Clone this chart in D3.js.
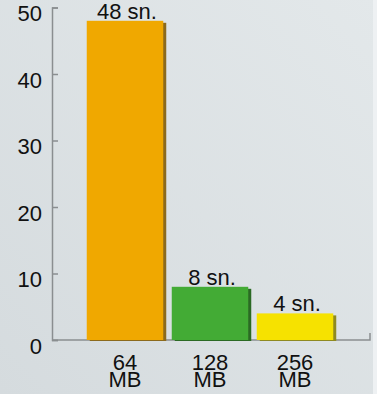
<!DOCTYPE html>
<html>
<head>
<meta charset="utf-8">
<script src="https://cdn.jsdelivr.net/npm/d3@7"></script>
<style>
  html, body { margin: 0; padding: 0; background: #dfe5e8; }
  svg { display: block; }
</style>
</head>
<body>
<svg id="chart"></svg>
<script>
// chart data
const categories = ['64 MB', '128 MB', '256 MB'];
const seconds = [48, 8, 4];
const valueLabels = ['48 sn.', '8 sn.', '4 sn.'];
const barColors = ['#f0a800', '#43ab35', '#f6e200'];
const shadowColors = ['#8c6a1c', '#2b6a24', '#8f8a20'];
const yTicks = [0, 10, 20, 30, 40, 50];

const W = 377, H = 394;
const font = "'Liberation Sans', Arial, sans-serif";
const fontSize = '22px';

const svg = d3.select('#chart').attr('width', W).attr('height', H);

// background
const defs = svg.append('defs');
const grad = defs.append('linearGradient').attr('id', 'bg')
    .attr('x1', 0).attr('y1', 1).attr('x2', 1).attr('y2', 0);
grad.append('stop').attr('offset', 0).attr('stop-color', '#d5dbde');
grad.append('stop').attr('offset', 1).attr('stop-color', '#e3e8ea');
svg.append('rect').attr('width', W).attr('height', H).attr('fill', 'url(#bg)');
svg.append('rect').attr('x', 373).attr('width', 4).attr('height', H).attr('fill', '#eef1f3');

// scales
const x = d3.scaleBand()
    .domain(categories)
    .range([82.5, 337.5])
    .paddingInner(0.1)
    .paddingOuter(0.05);

const y = d3.scaleLinear()
    .domain([0, 50])
    .range([340, 7.5]);

// y axis
const yAxis = svg.append('g')
    .attr('transform', 'translate(52,0)')
    .call(d3.axisLeft(y).tickValues(yTicks).tickSize(-6).tickPadding(10));
yAxis.select('.domain').attr('stroke', '#8a8e90').attr('stroke-width', 1.5);
yAxis.selectAll('.tick line').attr('stroke', '#8a8e90').attr('stroke-width', 1.5);
yAxis.selectAll('.tick text')
    .attr('fill', '#111')
    .attr('dy', '0.6em')
    .style('font-family', font)
    .style('font-size', fontSize);

// baseline
svg.append('path')
    .attr('d', `M52,${y(0)}H370V${y(0) - 7}`)
    .attr('fill', 'none')
    .attr('stroke', '#8a8e90')
    .attr('stroke-width', 1.5);

// bars
const bars = svg.append('g').selectAll('g')
    .data(categories)
    .join('g');

bars.append('rect')
    .attr('x', d => x(d) + 3)
    .attr('y', (d, i) => y(seconds[i]) + 2)
    .attr('width', x.bandwidth())
    .attr('height', (d, i) => y(0) - y(seconds[i]) - 1)
    .attr('fill', (d, i) => shadowColors[i]);

bars.append('rect')
    .attr('x', d => x(d))
    .attr('y', (d, i) => y(seconds[i]))
    .attr('width', x.bandwidth())
    .attr('height', (d, i) => y(0) - y(seconds[i]))
    .attr('fill', (d, i) => barColors[i]);

// value labels
bars.append('text')
    .attr('x', d => x(d) + x.bandwidth() / 2 + 2)
    .attr('y', (d, i) => y(seconds[i]) - 2)
    .attr('text-anchor', 'middle')
    .attr('fill', '#111')
    .style('font-family', font)
    .style('font-size', fontSize)
    .text((d, i) => valueLabels[i]);

// category labels, two lines
const cat = bars.append('text')
    .attr('text-anchor', 'middle')
    .attr('fill', '#111')
    .style('font-family', font)
    .style('font-size', fontSize);
cat.append('tspan')
    .attr('x', d => x(d) + x.bandwidth() / 2)
    .attr('y', 370)
    .text(d => d.split(' ')[0]);
cat.append('tspan')
    .attr('x', d => x(d) + x.bandwidth() / 2)
    .attr('y', 387)
    .text(d => d.split(' ')[1]);
</script>
</body>
</html>
